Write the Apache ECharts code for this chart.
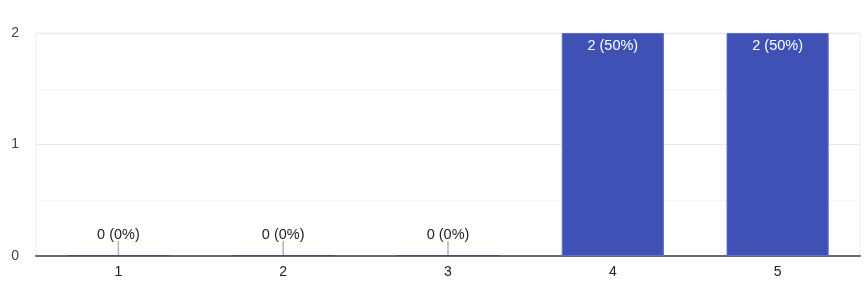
<!DOCTYPE html>
<html>
<head>
<meta charset="utf-8">
<style>html,body{margin:0;padding:0;background:#fff}#c{width:867px;height:290px}</style>
<script src="https://cdn.jsdelivr.net/npm/echarts@6/dist/echarts.min.js"></script>
</head>
<body>
<div id="c"></div>
<script>
var categories = ['1', '2', '3', '4', '5'];
var values = [0, 0, 0, 2, 2];
var yTicks = [0, 1, 2];

var total = values.reduce(function (a, b) { return a + b; }, 0);
function fmt(v) { return v + ' (' + Math.round(v / total * 100) + '%)'; }

var chart = echarts.init(document.getElementById('c'), null, { renderer: 'canvas' });
var zeroData = [];
values.forEach(function (v, i) { if (v === 0) zeroData.push([i, v]); });

chart.setOption({
  animation: false,
  textStyle: { fontFamily: 'Liberation Sans, Arial, sans-serif' },
  grid: { left: 36, right: 7, top: 33, bottom: 34, show: true, borderColor: '#ececec', borderWidth: 1 },
  xAxis: {
    type: 'category', data: categories,
    axisLine: { show: true, lineStyle: { color: '#6b6b6b', width: 2 } },
    axisTick: { show: false },
    axisLabel: { color: '#222', fontSize: 14, margin: 9 },
    splitLine: { show: false }
  },
  yAxis: {
    type: 'value', min: 0, max: 2, interval: 0.5,
    axisLine: { show: false }, axisTick: { show: false },
    axisLabel: { color: '#444', fontSize: 14, margin: 17,
      formatter: function (v) { return yTicks.indexOf(v) >= 0 ? String(v) : ''; } },
    splitLine: { show: true, lineStyle: { color: ['#e9e9e9', '#f5f5f5'], width: 1 } }
  },
  series: [
    {
      type: 'bar', data: values.map(function (v) { return v === 0 ? null : v; }),
      barWidth: '62%',
      itemStyle: { color: '#3f51b5', borderColor: '#6470c4', borderWidth: 1 },
      label: { show: true, position: 'insideTop', distance: 5, color: '#fff', fontSize: 14.5,
        formatter: function (p) { return fmt(p.value); } },
      z: 2
    },
    {
      type: 'custom', data: zeroData, z: 3,
      renderItem: function (params, api) {
        var p = api.coord([api.value(0), api.value(1)]);
        var w = api.size([1, 0])[0] * 0.62;
        return { type: 'group', children: [
          { type: 'line', shape: { x1: p[0] - w / 2, y1: p[1] - 0.5, x2: p[0] + w / 2, y2: p[1] - 0.5 },
            style: { stroke: '#4a5073', lineWidth: 1 } },
          { type: 'line', shape: { x1: p[0], y1: p[1] - 15, x2: p[0], y2: p[1] - 1 },
            style: { stroke: '#b5b5b5', lineWidth: 1.5 } },
          { type: 'text', x: p[0], y: p[1] - 21,
            style: { text: fmt(api.value(1)), fill: '#222', fontSize: 14.5,
              fontFamily: 'Liberation Sans, Arial, sans-serif', align: 'center', verticalAlign: 'middle' } }
        ] };
      }
    }
  ]
});
</script>
</body>
</html>
